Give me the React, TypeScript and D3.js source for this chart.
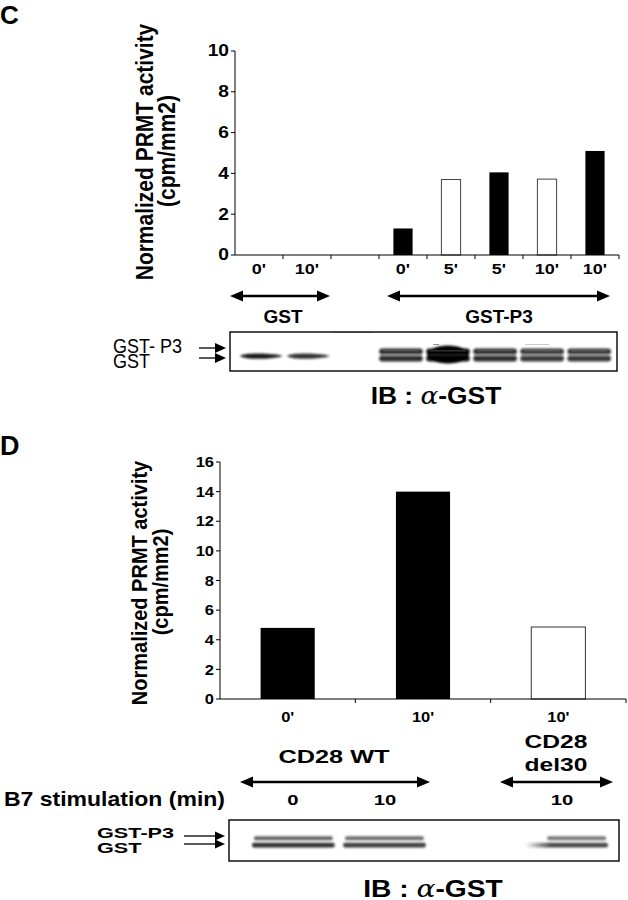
import React from 'react';
import * as d3 from 'd3';

// ---------- Panel C data ----------
const catsC = ["0'", "10'", "", "0'", "5'", "5'", "10'", "10'"];
const valsC = [0, 0, 0, 1.3, 3.7, 4.05, 3.72, 5.1];
const kindC = ["solid", "solid", "none", "solid", "open", "solid", "open", "solid"];
const yTicksC = [0, 2, 4, 6, 8, 10];
const groupLabelsC = ["GST", "GST-P3"];
const blotCUpper = [0, 0, 0, 0.9, 1, 0.9, 0.85, 0.85];
const blotCLower = [0.95, 0.85, 0, 0.9, 1, 0.9, 0.85, 0.85];

// ---------- Panel D data ----------
const catsD = ["0'", "10'", "10'"];
const valsD = [4.8, 14.0, 4.86];
const kindD = ["solid", "solid", "open"];
const yTicksD = [0, 2, 4, 6, 8, 10, 12, 14, 16];
const stimLabelsD = ["0", "10", "10"];
const blotDUpper = [0.75, 0.7, 0, 0.65];
const blotDLower = [0.9, 0.85, 0, 0.85];

const SANS = "'Liberation Sans', Arial, Helvetica, sans-serif";
const SERIF = "'DejaVu Serif', 'Liberation Serif', serif";

function T({ x, y, s = 14, sx = 1, sy = 1, a = 'middle', w = 'bold', f = SANS, children }: any) {
  return (
    <text transform={`translate(${x},${y}) scale(${sx},${sy})`} fontSize={s} fontWeight={w}
      fontFamily={f} textAnchor={a} dominantBaseline="central" fill="#000">{children}</text>
  );
}

function VT({ x, y, s, sy = 1.12, children }: any) {
  return (
    <text transform={`translate(${x},${y}) rotate(-90) scale(1,${sy})`} fontSize={s} fontWeight="bold"
      fontFamily={SANS} textAnchor="middle" dominantBaseline="central">{children}</text>
  );
}

function DArrow({ x1, x2, y, head = 13, hw = 5.5, sw = 2.6 }: any) {
  return (
    <g fill="#000">
      <line x1={x1 + head - 1} x2={x2 - head + 1} y1={y} y2={y} stroke="#000" strokeWidth={sw} />
      <path d={`M${x1},${y}L${x1 + head},${y - hw}L${x1 + head},${y + hw}Z`} />
      <path d={`M${x2},${y}L${x2 - head},${y - hw}L${x2 - head},${y + hw}Z`} />
    </g>
  );
}

function RArrow({ x1, x2, y, head = 9, hw = 4.5, sw = 1.3 }: any) {
  return (
    <g fill="#000">
      <line x1={x1} x2={x2 - head + 1} y1={y} y2={y} stroke="#000" strokeWidth={sw} />
      <path d={`M${x2},${y}L${x2 - head},${y - hw}L${x2 - head},${y + hw}Z`} />
    </g>
  );
}

function IBLabel({ x, y, s, sx }: any) {
  return (
    <text transform={`translate(${x},${y}) scale(${sx},1)`} fontSize={s} fontWeight="bold"
      fontFamily={SANS} textAnchor="middle" dominantBaseline="central">
      IB : <tspan fontFamily={SERIF} fontWeight="normal" fontStyle="italic">α</tspan>-GST
    </text>
  );
}

export default function App() {
  // ----- C scales -----
  const xC = d3.scaleBand<number>().domain(d3.range(catsC.length)).range([235, 619]);
  const yC = d3.scaleLinear().domain([0, 10]).range([255, 51]);
  const bwC = xC.bandwidth();
  const barWC = bwC * 0.4;

  // ----- D scales -----
  const xD = d3.scaleBand<number>().domain(d3.range(catsD.length)).range([220, 626]);
  const yD = d3.scaleLinear().domain([0, 16]).range([699, 462]);
  const bwD = xD.bandwidth();
  const barWD = bwD * 0.4;

  // blot lanes
  const laneC = d3.scaleBand<number>().domain(d3.range(blotCLower.length)).range([237, 612]).paddingInner(0.03);
  const laneD = d3.scaleBand<number>().domain(d3.range(blotDLower.length)).range([252, 610]).paddingInner(0.07);

  const fillOf = (k: string) => (k === 'solid' ? '#000' : '#fff');

  return (
    <svg width={628} height={900} style={{ position: 'absolute', left: 0, top: 0, display: 'block', background: '#fff' }}>
      <defs>
        <filter id="blur1" x="-20%" y="-100%" width="140%" height="300%">
          <feGaussianBlur stdDeviation="0.8" />
        </filter>
        <filter id="blur2" x="-20%" y="-100%" width="140%" height="300%">
          <feGaussianBlur stdDeviation="1.0" />
        </filter>
        <linearGradient id="fadeL" x1="0" x2="1" y1="0" y2="0">
          <stop offset="0" stopColor="#222" stopOpacity="0" />
          <stop offset="0.3" stopColor="#222" stopOpacity="0.95" />
          <stop offset="1" stopColor="#222" stopOpacity="0.95" />
        </linearGradient>
      </defs>
      <rect x={0} y={0} width={628} height={900} fill="#fff" />

      {/* ================= PANEL C ================= */}
      <text x={0} y={24} fontSize={26} fontWeight="bold" fontFamily={SANS}>C</text>

      <VT x={145} y={152} s={21}>Normalized PRMT activity</VT>
      <VT x={167} y={151} s={21}>(cpm/mm2)</VT>

      {/* bars */}
      {valsC.map((v, i) => kindC[i] === 'none' ? null : (
        <rect key={i} x={xC(i)! + bwC / 2 - barWC / 2} y={yC(v)} width={barWC} height={yC(0) - yC(v)}
          fill={fillOf(kindC[i])} stroke={kindC[i] === 'open' ? '#444' : 'none'} strokeWidth={1} />
      ))}

      {/* axes */}
      <line x1={235} x2={235} y1={yC(10)} y2={yC(0)} stroke="#000" strokeWidth={1} />
      <line x1={235} x2={619} y1={yC(0)} y2={yC(0)} stroke="#000" strokeWidth={1} />
      {yTicksC.map(t => (
        <g key={t}>
          <line x1={231} x2={235} y1={yC(t)} y2={yC(t)} stroke="#000" />
          <T x={229} y={yC(t)} s={16} sx={1.2} a="end">{t}</T>
        </g>
      ))}
      {catsC.map((c, i) => (
        <g key={i}>
          <line x1={xC(i)! + bwC} x2={xC(i)! + bwC} y1={yC(0)} y2={yC(0) + 4} stroke="#000" />
          <T x={xC(i)! + bwC / 2} y={269} s={15} sx={1.2}>{c}</T>
        </g>
      ))}

      {/* group arrows */}
      <DArrow x1={xC(0)! - 5} x2={xC(1)! + bwC - 1} y={296} />
      <DArrow x1={xC(3)! + 8} x2={xC(7)! + bwC - 9} y={296} />
      <T x={(xC(0)! + xC(1)! + bwC) / 2} y={316} s={19}>{groupLabelsC[0]}</T>
      <T x={(xC(3)! + xC(7)! + bwC) / 2} y={316} s={19}>{groupLabelsC[1]}</T>

      {/* blot C */}
      <g>
        {blotCLower.map((v, i) => {
          if (!v) return null;
          const x0 = laneC(i)!, w = laneC.bandwidth();
          const pair = blotCUpper[i] > 0;
          if (!pair) {
            return (
              <g key={i} filter="url(#blur1)">
                <path d={`M${x0 + 3},${356} C${x0 + 8},${352} ${x0 + w - 6},${353.5} ${x0 + w},${356} C${x0 + w - 6},${359} ${x0 + 8},${360.5} ${x0 + 3},${356}Z`}
                  fill="#111" opacity={v} />
              </g>
            );
          }
          const heavy = v >= 1;
          return (
            <g key={i}>
              <g filter="url(#blur1)">
                <rect x={x0 + 1} y={348.5} width={w - 2} height={6} rx={3} fill="#151515" opacity={blotCUpper[i]} />
                <rect x={x0 + 1} y={355.5} width={w - 2} height={6} rx={3} fill="#151515" opacity={v} />
                {heavy && <ellipse cx={x0 + w / 2} cy={354.5} rx={w / 2 - 2} ry={9} fill="#000" />}
              </g>
              <rect x={x0 + 4} y={354.3} width={w - 8} height={1.2} fill="#aaa" opacity={heavy ? 0.35 : 0.8} filter="url(#blur1)" />
              <rect x={x0 + 5} y={350.4} width={w - 10} height={0.9} fill="#888" opacity={0.6} />
            </g>
          );
        })}
        <line x1={laneC(4)! + 8} x2={laneC(4)! + 14} y1={344.5} y2={344.5} stroke="#777" strokeWidth={0.8} />
        <line x1={laneC(6)! + 6} x2={laneC(6)! + 30} y1={344.5} y2={344.5} stroke="#bbb" strokeWidth={0.8} />
        <line x1={laneC(2)! + 2} x2={laneC(2)! + 42} y1={332.5} y2={332.5} stroke="#bbb" strokeWidth={0.8} />
      </g>
      <rect x={230} y={332} width={387} height={39} fill="none" stroke="#000" strokeWidth={1.4} />

      <T x={113} y={346.5} s={18} sy={1.12} w="normal" a="start">GST- P3</T>
      <T x={113} y={361} s={18} sy={1.12} w="normal" a="start">GST</T>
      <RArrow x1={199} x2={226} y={348} head={11} hw={5} />
      <RArrow x1={199} x2={226} y={358} head={11} hw={5} />

      <IBLabel x={436} y={395} s={24} sx={1.1} />

      {/* ================= PANEL D ================= */}
      <text x={0} y={455} fontSize={27} fontWeight="bold" fontFamily={SANS}>D</text>

      <VT x={139} y={583} s={20}>Normalized PRMT activity</VT>
      <VT x={160} y={582} s={20}>(cpm/mm2)</VT>

      {valsD.map((v, i) => (
        <rect key={i} x={xD(i)! + bwD / 2 - barWD / 2} y={yD(v)} width={barWD} height={yD(0) - yD(v)}
          fill={fillOf(kindD[i])} stroke={kindD[i] === 'open' ? '#333' : 'none'} strokeWidth={1} />
      ))}
      <line x1={220} x2={220} y1={yD(16)} y2={yD(0)} stroke="#000" strokeWidth={1} />
      <line x1={220} x2={626} y1={yD(0)} y2={yD(0)} stroke="#000" strokeWidth={1} />
      {yTicksD.map(t => (
        <g key={t}>
          <line x1={216} x2={220} y1={yD(t)} y2={yD(t)} stroke="#000" />
          <T x={214} y={yD(t)} s={15} sx={1.1} a="end">{t}</T>
        </g>
      ))}
      {catsD.map((c, i) => (
        <g key={i}>
          <line x1={xD(i)! + bwD} x2={xD(i)! + bwD} y1={yD(0)} y2={yD(0) + 4} stroke="#000" />
          <T x={xD(i)! + bwD / 2} y={717} s={15} sx={1.1}>{c}</T>
        </g>
      ))}

      {/* group labels */}
      <T x={334} y={757} s={18.5} sx={1.37}>CD28 WT</T>
      <T x={556} y={742} s={18.5} sx={1.33}>CD28</T>
      <T x={556} y={765} s={18.5} sx={1.33}>del30</T>
      <DArrow x1={240} x2={430} y={782} />
      <DArrow x1={500} x2={613} y={782} />

      <T x={4} y={800} s={19.5} sx={1.18} a="start">B7 stimulation (min)</T>
      {stimLabelsD.map((s, i) => (
        <T key={i} x={[293, 385, 562][i]} y={800} s={15} sx={1.35}>{s}</T>
      ))}

      {/* blot D */}
      <g>
        {blotDLower.map((v, i) => {
          if (!v) return null;
          const x0 = laneD(i)!, w = laneD.bandwidth();
          const last = i === blotDLower.length - 1;
          return (
            <g key={i} filter="url(#blur2)">
              <rect x={last ? x0 + 22 : x0 + 2} y={836.3} width={last ? w - 26 : w - 6} height={4} rx={1.5}
                fill="#333" opacity={blotDUpper[i]} />
              <rect x={x0} y={842.8} width={w - 2} height={4.6} rx={2}
                fill={last ? 'url(#fadeL)' : '#1e1e1e'} opacity={v} />
            </g>
          );
        })}
      </g>
      <rect x={229} y={820} width={390} height={41} fill="none" stroke="#000" strokeWidth={1.4} />

      <T x={97} y={832.5} s={15.5} sx={1.4} a="start">GST-P3</T>
      <T x={97} y={847.5} s={15.5} sx={1.4} a="start">GST</T>
      <RArrow x1={184} x2={225} y={836} head={10} hw={4.5} />
      <RArrow x1={184} x2={225} y={844} head={10} hw={4.5} />

      <IBLabel x={433} y={889} s={23.5} sx={1.2} />
    </svg>
  );
}
